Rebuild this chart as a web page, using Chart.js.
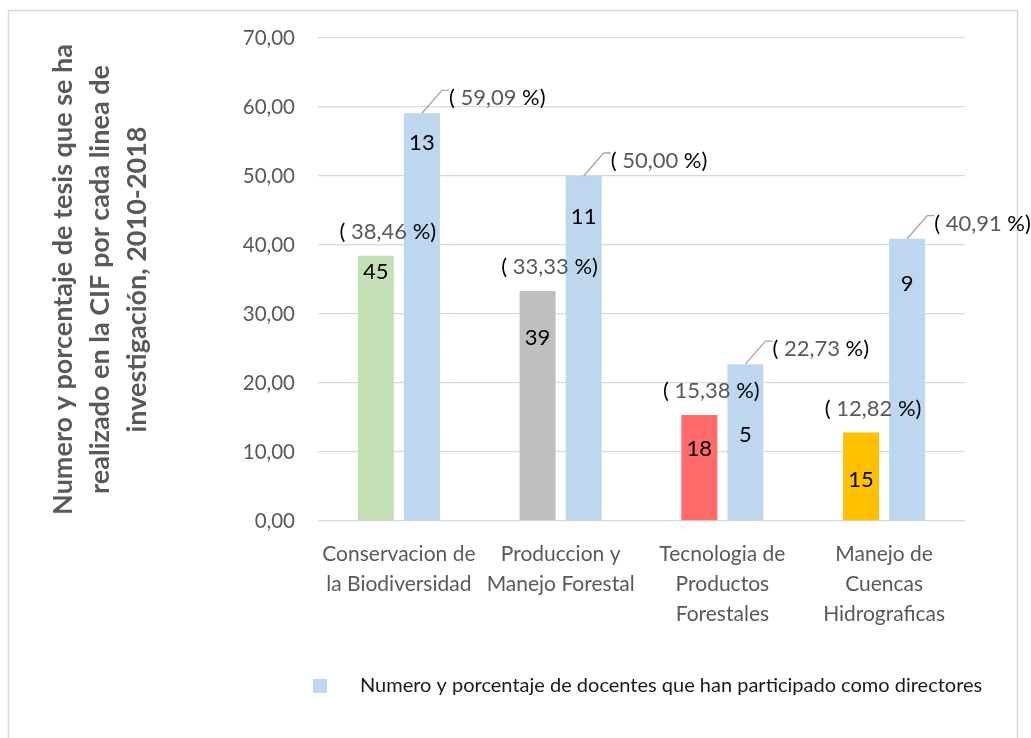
<!DOCTYPE html>
<html>
<head>
<meta charset="utf-8">
<script src="https://cdn.jsdelivr.net/npm/chart.js@4.4.0/dist/chart.umd.min.js"></script>
<style>
    html, body { margin: 0; padding: 0; background: #fff; }
    #wrap { width: 1031px; height: 738px; }
</style>
</head>
<body>
<div id="wrap"><canvas id="chart"></canvas></div>
<script>
const categories = [
    ['Conservacion de', 'la Biodiversidad'],
    ['Produccion y', 'Manejo Forestal'],
    ['Tecnologia de', 'Productos', 'Forestales'],
    ['Manejo de', 'Cuencas', 'Hidrograficas']
];
const tesisPct = [38.46, 33.33, 15.38, 12.82];
const tesisCount = [45, 39, 18, 15];
const docentesPct = [59.09, 50.00, 22.73, 40.91];
const docentesCount = [13, 11, 5, 9];
const yMax = 70;
const yStep = 10;

// where the count labels sit inside the bars (axis units)
const tesisCountAt = [36.1, 26.5, 10.4, 5.9];
const docentesCountAt = [54.8, 44.1, 12.5, 34.3];

const tesisColors = ['#c5e0b4', '#bfbfbf', '#ff6b6b', '#ffc000'];
const docentesColor = '#bdd7ee';
const legendText = 'Numero y porcentaje de docentes que han participado como directores';
const yTitle = ['Numero y porcentaje de tesis que se ha', 'realizado en la CIF por cada linea de', 'investigación, 2010-2018'];

const FONT = 'Lato';

function fmt(v) {
    return v.toFixed(2).replace('.', ',');
}

function drawPct(ctx, v, x, y, align) {
    const parts = [['( ', '#000000'], [fmt(v), '#595959'], [' %)', '#000000']];
    let w = 0;
    parts.forEach(p => w += ctx.measureText(p[0]).width);
    let cx = align === 'center' ? x - w / 2 : x;
    ctx.textAlign = 'left';
    parts.forEach(p => {
        ctx.fillStyle = p[1];
        ctx.fillText(p[0], cx, y);
        cx += ctx.measureText(p[0]).width;
    });
}

const extras = {
    id: 'extras',
    beforeDraw(chart) {
        const ctx = chart.ctx;
        ctx.save();
        ctx.strokeStyle = '#d9d9d9';
        ctx.lineWidth = 1.5;
        ctx.strokeRect(8.5, 10.5, 1009, 740);
        ctx.restore();
    },
    afterDatasetsDraw(chart) {
        const ctx = chart.ctx;
        const y = chart.scales.y;
        const m0 = chart.getDatasetMeta(0);
        const m1 = chart.getDatasetMeta(1);
        ctx.save();
        ctx.textBaseline = 'middle';

        ctx.font = '22px ' + FONT;
        ctx.fillStyle = '#000';
        ctx.textAlign = 'center';
        m0.data.forEach((bar, i) => ctx.fillText(tesisCount[i], bar.x, y.getPixelForValue(tesisCountAt[i])));
        m1.data.forEach((bar, i) => ctx.fillText(docentesCount[i], bar.x, y.getPixelForValue(docentesCountAt[i])));

        ctx.font = '22px ' + FONT;
        m0.data.forEach((bar, i) => drawPct(ctx, tesisPct[i], bar.x + 12, bar.y - 24, 'center'));

        // callouts with leader lines for the docentes bars
        m1.data.forEach((bar, i) => {
            ctx.strokeStyle = '#a6a6a6';
            ctx.lineWidth = 1.3;
            ctx.beginPath();
            ctx.moveTo(bar.x, bar.y);
            ctx.lineTo(bar.x + 20, bar.y - 23);
            ctx.lineTo(bar.x + 27, bar.y - 23);
            ctx.stroke();
            drawPct(ctx, docentesPct[i], bar.x + 27, bar.y - 15, 'left');
        });
        ctx.restore();
    },
    afterDraw(chart) {
        const ctx = chart.ctx;
        const area = chart.chartArea;
        ctx.save();
        // y axis title
        ctx.translate(100, (area.top + area.bottom) / 2);
        ctx.rotate(-Math.PI / 2);
        ctx.font = 'bold 27px ' + FONT;
        ctx.fillStyle = '#595959';
        ctx.textAlign = 'center';
        ctx.textBaseline = 'middle';
        yTitle.forEach((line, i) => ctx.fillText(line, 0, (i - 1) * 37));
        ctx.restore();

        // legend
        ctx.save();
        ctx.fillStyle = docentesColor;
        ctx.fillRect(313, 679, 14, 14);
        ctx.font = '20px ' + FONT;
        ctx.fillStyle = '#1a1a1a';
        ctx.textAlign = 'left';
        ctx.textBaseline = 'middle';
        ctx.fillText(legendText, 360, 686);
        ctx.restore();
    }
};

new Chart(document.getElementById('chart'), {
    type: 'bar',
    data: {
        labels: categories,
        datasets: [{
            label: 'Numero y porcentaje de tesis',
            data: tesisPct,
            backgroundColor: tesisColors,
            categoryPercentage: 0.569,
            barPercentage: 0.783
        }, {
            label: legendText,
            data: docentesPct,
            backgroundColor: docentesColor,
            categoryPercentage: 0.569,
            barPercentage: 0.783
        }]
    },
    options: {
        responsive: true,
        maintainAspectRatio: false,
        animation: false,
        layout: {
            padding: { top: 38, right: 66, left: 0, bottom: 0 }
        },
        plugins: {
            legend: { display: false },
            tooltip: { enabled: false }
        },
        scales: {
            x: {
                grid: { display: false },
                border: { display: false },
                ticks: {
                    color: '#595959',
                    font: { family: FONT, size: 21, lineHeight: 1.43 },
                    padding: 10,
                    maxRotation: 0,
                    autoSkip: false
                },
                afterFit(scale) { scale.height = 217; }
            },
            y: {
                min: 0,
                max: yMax,
                grid: { color: '#d9d9d9', lineWidth: 1.3, drawTicks: false },
                border: { display: false },
                ticks: {
                    stepSize: yStep,
                    color: '#595959',
                    font: { family: FONT, size: 20.5 },
                    padding: 23,
                    callback: v => fmt(v)
                },
                afterFit(scale) { scale.width = 318; }
            }
        }
    },
    plugins: [extras]
});
</script>
</body>
</html>
